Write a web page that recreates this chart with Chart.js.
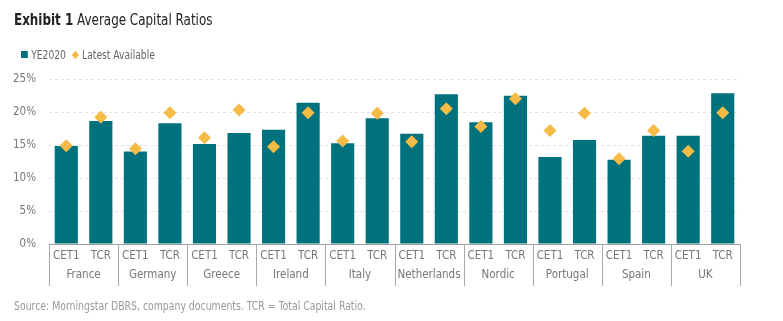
<!DOCTYPE html>
<html>
<head>
<meta charset="utf-8">
<script src="https://cdn.jsdelivr.net/npm/chart.js@4/dist/chart.umd.min.js"></script>
<style>
  body { margin: 0; background: #fff; font-family: "DejaVu Sans Condensed", sans-serif; }
  #wrap { position: relative; width: 783px; height: 321px; }
  .txt { position: absolute; white-space: nowrap; transform-origin: 0 0; }
  #titulo { left: 14px; top: 10px; font-size: 16px; color: #222; transform: scaleX(0.83); }
  #titulo b { font-weight: bold; }
  #leyenda { left: 21px; top: 47px; font-size: 12px; color: #666; transform: scaleX(0.85); }
  #leyenda span { display: inline-block; vertical-align: middle; }
  .cuadro { width: 8px; height: 7px; background: #00727d; margin-right: 4px; }
  .rombo { width: 6px; height: 6px; background: #f5bb45; transform: rotate(45deg); margin: 0 5px 0 8px; }
  #fuente { left: 14px; top: 298px; font-size: 12.5px; color: #999; transform: scaleX(0.83); }
  canvas { position: absolute; left: 0; top: 0; }
</style>
</head>
<body>
<div id="wrap">
  <canvas id="barChart" width="783" height="321"></canvas>
  <div id="titulo" class="txt"><b>Exhibit 1</b> Average Capital Ratios</div>
  <div id="leyenda" class="txt"><span class="cuadro"></span><span>YE2020</span><span class="rombo"></span><span>Latest Available</span></div>
  <div id="fuente" class="txt">Source: Morningstar DBRS, company documents. TCR = Total Capital Ratio.</div>
</div>
<script>
// datos
const paises = ['France', 'Germany', 'Greece', 'Ireland', 'Italy', 'Netherlands', 'Nordic', 'Portugal', 'Spain', 'UK'];
const ratios = ['CET1', 'TCR'];
const ye2020 = [14.85, 18.65, 14.0, 18.3, 15.15, 16.8, 17.3, 21.4, 15.25, 19.05,
                16.7, 22.7, 18.45, 22.45, 13.2, 15.75, 12.75, 16.4, 16.4, 22.85];
const ultimoDisponible = [14.9, 19.2, 14.45, 19.9, 16.1, 20.3, 14.75, 19.9, 15.6, 19.8,
                          15.5, 20.5, 17.8, 22.0, 17.2, 19.8, 12.9, 17.2, 14.05, 19.9];
const ticksY = [0, 5, 10, 15, 20, 25];

const etiquetas = paises.flatMap(() => ratios);
const fuente = '"DejaVu Sans Condensed", sans-serif';

// separadores y nombres de paises debajo del eje
const grupos = {
    id: 'grupos',
    afterDraw(chart) {
        const x = chart.scales.x;
        const area = chart.chartArea;
        const ctx = chart.ctx;
        const n = ratios.length;
        ctx.save();
        ctx.strokeStyle = '#a8a8a8';
        ctx.lineWidth = 1;
        for (let i = 0; i <= paises.length; i++) {
            let px;
            if (i === 0) px = area.left;
            else if (i === paises.length) px = area.right;
            else px = (x.getPixelForValue(i * n - 1) + x.getPixelForValue(i * n)) / 2;
            px = Math.round(px) + 0.5;
            ctx.beginPath();
            ctx.moveTo(px, area.bottom);
            ctx.lineTo(px, area.bottom + 42);
            ctx.stroke();
        }
        ctx.fillStyle = '#777';
        ctx.font = '11.5px ' + fuente;
        ctx.textAlign = 'center';
        ctx.textBaseline = 'middle';
        paises.forEach((p, i) => {
            const cx = (x.getPixelForValue(i * n) + x.getPixelForValue(i * n + 1)) / 2;
            ctx.fillText(p, cx, area.bottom + 31);
        });
        ctx.restore();
    }
};

const ctx = document.getElementById('barChart').getContext('2d');
new Chart(ctx, {
    data: {
        labels: etiquetas,
        datasets: [
            {
                type: 'line',
                label: 'Latest Available',
                data: ultimoDisponible,
                showLine: false,
                pointStyle: 'rectRot',
                pointRadius: 6.5,
                pointBorderWidth: 0,
                backgroundColor: '#f5bb45',
                borderColor: '#f5bb45'
            },
            {
                type: 'bar',
                label: 'YE2020',
                data: ye2020,
                backgroundColor: '#00727d',
                categoryPercentage: 1,
                barPercentage: 0.67
            }
        ]
    },
    options: {
        responsive: false,
        animation: false,
        layout: { padding: { top: 79, right: 43, bottom: 35, left: 0 } },
        plugins: {
            legend: { display: false },
            tooltip: { enabled: false }
        },
        scales: {
            x: {
                grid: { display: false, drawTicks: false },
                border: { display: true, color: '#a0a0a0' },
                ticks: {
                    color: '#777',
                    font: { family: fuente, size: 11.5 },
                    padding: 5,
                    maxRotation: 0,
                    autoSkip: false
                },
                afterFit: (scale) => { scale.height = 42; }
            },
            y: {
                min: 0,
                max: 25,
                afterBuildTicks: (scale) => { scale.ticks = ticksY.map(v => ({ value: v })); },
                grid: { color: '#e2e2e2', drawTicks: false },
                border: { display: false, dash: [3, 3] },
                ticks: {
                    color: '#777',
                    font: { family: fuente, size: 11.5 },
                    padding: 13,
                    callback: (v) => v + '%'
                },
                afterFit: (scale) => { scale.width = 49; }
            }
        }
    },
    plugins: [grupos]
});
</script>
</body>
</html>
